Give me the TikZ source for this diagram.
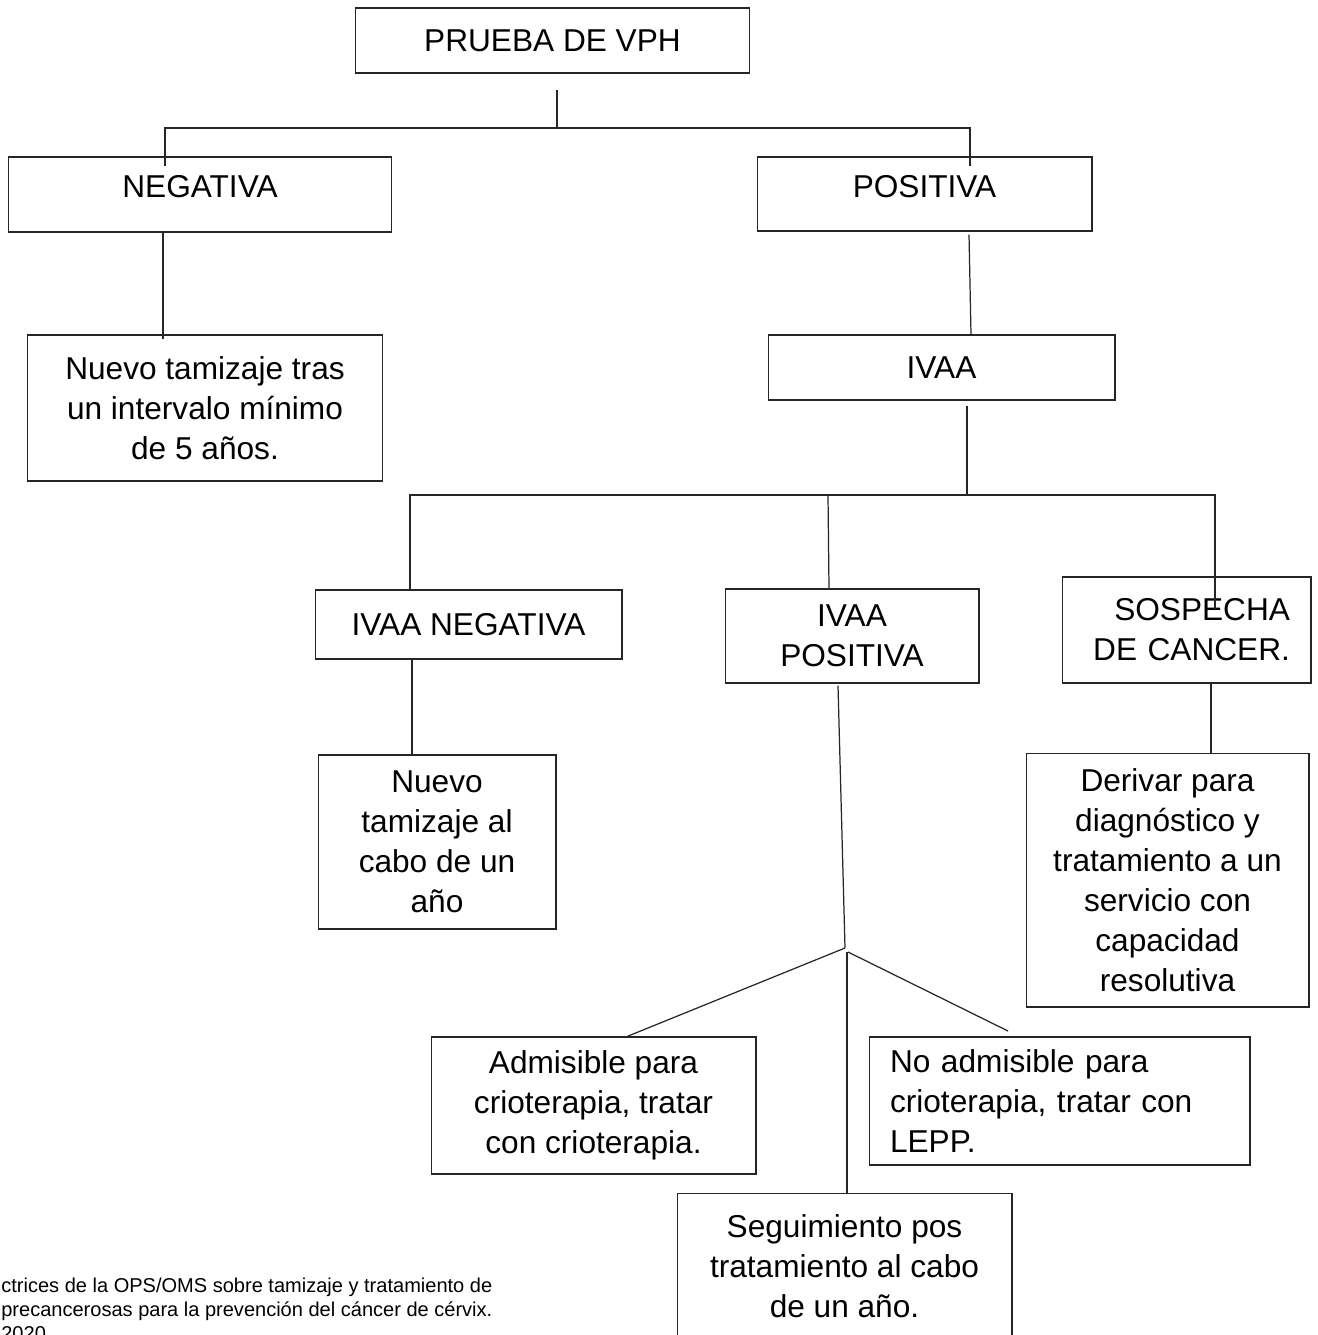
\documentclass[tikz,border=0pt]{standalone}
\usepackage{fontspec}
\setmainfont{Liberation Sans}
\usetikzlibrary{calc}
\begin{document}
\begin{tikzpicture}[
  x=0.02cm, y=-0.02cm,
  caja/.style={rectangle, draw=black!85, line width=0.6pt, align=center, inner sep=0pt,
    font=\fontsize{18}{22.7}\selectfont},
  linea/.style={draw=black!85, line width=0.7pt},
  ]
 \useasboundingbox (0,0) rectangle (1318,1335);
 % cajas
 \node [caja, minimum width=7.9cm, minimum height=1.3cm] (prueba) at (552.5,40.5) {PRUEBA DE VPH};
 \node [caja, minimum width=7.68cm, minimum height=1.5cm] (neg) at (200,194.5) {\raisebox{0.16cm}[12.9pt][0pt]{NEGATIVA}};
 \node [caja, minimum width=6.7cm, minimum height=1.48cm] (pos) at (924.5,194) {\raisebox{0.16cm}[12.9pt][0pt]{POSITIVA}};
 \node [caja, minimum width=7.12cm, minimum height=2.92cm] (nuevo5) at (205,408) {Nuevo tamizaje tras\\un intervalo mínimo\\de 5 años.};
 \node [caja, minimum width=6.94cm, minimum height=1.3cm] (ivaa) at (941.5,367.5) {IVAA};
 \node [caja, minimum width=6.14cm, minimum height=1.38cm] (ivaaneg) at (468.5,624.5) {IVAA NEGATIVA};
 \node [caja, minimum width=5.08cm, minimum height=1.88cm] (ivaapos) at (852,636) {IVAA\\POSITIVA};
 \node [caja, align=right, text width=4.14cm, inner xsep=0.42cm, minimum height=2.12cm] (sosp) at (1186.5,630) {SOSPECHA\\DE CANCER.};
 \node [caja, minimum width=4.76cm, minimum height=3.48cm] (nuevo1) at (437,842) {Nuevo\\tamizaje al\\cabo de un\\año};
 \node [caja, minimum width=5.66cm, minimum height=5.08cm] (deriv) at (1167.5,880) {Derivar para\\diagnóstico y\\tratamiento a un\\servicio con\\capacidad\\resolutiva};
 \node [caja, minimum width=6.5cm, minimum height=2.74cm] (admis) at (593.5,1105.5) {Admisible para\\crioterapia, tratar\\con crioterapia.};
 \node [caja, align=left, text width=6.78cm, inner xsep=0.42cm, minimum height=2.56cm] (noadm) at (1059.5,1101) {No admisible para\\crioterapia, tratar con\\LEPP.};
 \node [caja, minimum width=6.7cm, minimum height=2.92cm] (segui) at (844.5,1266) {Seguimiento pos\\tratamiento al cabo\\de un año.};
 \node [anchor=north west, inner sep=0pt, align=left, font=\fontsize{11.4}{13.66}\selectfont] (fuente) at (1,1278)
   {ctrices de la OPS/OMS sobre tamizaje y tratamiento de\\precancerosas para la prevención del cáncer de cérvix.\\2020};
 % uniones
 \coordinate (j1) at (557,128);
 \coordinate (j2) at (967,495);
 \coordinate (j3) at (845,948);
 \draw [linea] (557,90) -- (j1);
 \draw [linea] ($(neg.north -| 165,0)+(0,10)$) |- (j1) -| ($(pos.north -| 970,0)+(0,10)$);
 \draw [linea] (neg.south -| 163,0) -- ($(nuevo5.north -| 163,0)+(0,5)$);
 \draw [linea] ($(pos.south -| 969,0)+(0,3)$) -- (ivaa.north -| 971,0);
 \draw [linea] ($(ivaa.south -| 967,0)+(0,5)$) -- (j2);
 \draw [linea] (ivaaneg.north -| 410,0) |- (j2) -| ($(sosp.north -| 1215,0)+(0,33)$);
 \draw [linea] (828,495) -- (ivaapos.north -| 829,0);
 \draw [linea] (ivaaneg.south -| 412,0) -- (nuevo1.north -| 412,0);
 \draw [linea] (sosp.south -| 1211,0) -- (deriv.north -| 1211,0);
 \draw [linea] ($(ivaapos.south -| 838,0)+(0,2)$) -- (j3);
 \draw [linea] (j3) -- (admis.north -| 627,0);
 \draw [linea] (848,952) -- (1008,1031);
 \draw [linea] (847,952) -- (segui.north -| 847,0);
\end{tikzpicture}
\end{document}
